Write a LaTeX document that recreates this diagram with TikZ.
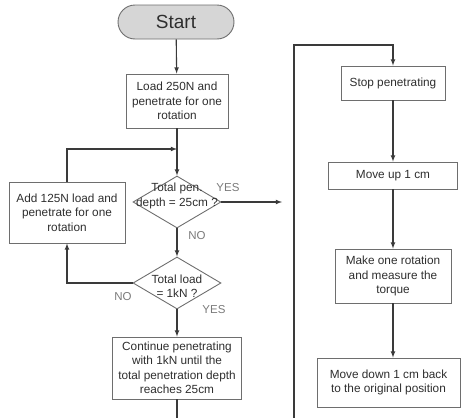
\documentclass[tikz,border=0pt]{standalone}
\usepackage{fontspec}
\setmainfont{Liberation Sans}
\usepackage{tikz}
\usetikzlibrary{shapes.geometric}

\definecolor{boxgray}{HTML}{6E6E6E}
\definecolor{arrgray}{HTML}{3A3A3A}
\definecolor{txtgray}{HTML}{2E2E2E}
\definecolor{lblgray}{HTML}{7A7A7A}
\definecolor{startfill}{HTML}{D6D6D6}

\begin{document}
\begin{tikzpicture}[x=1pt,y=-1pt,
        box/.style={draw=boxgray,line width=0.9pt,align=center,inner sep=2pt,text=txtgray,font=\fontsize{11.8}{14.5}\selectfont},
        startbox/.style={draw=boxgray,fill=startfill,line width=0.9pt,rounded corners=17pt,minimum width=116pt,minimum height=34pt,text=txtgray,font=\fontsize{19}{22}\selectfont},
        cond/.style={diamond,draw=boxgray,line width=0.9pt,inner sep=0pt,minimum width=88pt,minimum height=52pt},
        condtext/.style={align=center,text=txtgray,font=\fontsize{11.8}{14.5}\selectfont},
        answer/.style={text=lblgray,font=\fontsize{11.5}{13}\selectfont},
        arr/.style={->,>=latex,draw=arrgray,line width=1.1pt},
        link/.style={draw=arrgray,line width=1.1pt}]
    \useasboundingbox (0,0) rectangle (461,418);

    % left column
    \node[startbox] (start) at (176,22) {Start};
    \node[box,minimum width=102pt,minimum height=54pt] (load) at (177,101) {Load 250N and\\penetrate for one\\rotation};
    \node[cond,label={[condtext,yshift=6pt]center:{Total pen.\\depth = 25cm ?}}] (pen) at (177,202) {};
    \node[cond,label={[condtext,yshift=-3pt]center:{Total load\\= 1kN ?}}] (tl) at (177,283) {};
    \node[box,minimum width=116pt,minimum height=61pt] (add) at (67,212.5) {Add 125N load and\\penetrate for one\\rotation};
    \node[box,minimum width=129pt,minimum height=62pt] (cont) at (177,368) {Continue penetrating\\with 1kN until the\\total penetration depth\\reaches 25cm};

    \node[answer] (yes1) at (228,188) {YES};
    \node[answer] (no1) at (197,236) {NO};
    \node[answer] (no2) at (123,297) {NO};
    \node[answer] (yes2) at (214,310) {YES};

    % right column
    \node[box,minimum width=104pt,minimum height=34pt] (stop) at (393,83) {Stop penetrating};
    \node[box,minimum width=129pt,minimum height=27pt] (up) at (393,175.5) {Move up 1 cm};
    \node[box,minimum width=116pt,minimum height=54pt] (rot) at (393,276) {Make one rotation\\and measure the\\torque};
    \node[box,minimum width=143pt,minimum height=49pt] (down) at (388.5,382.5) {Move down 1 cm back\\to the original position};

    \coordinate (loopin) at (177,149);
    \coordinate (yesend) at (282,202);
    \coordinate (cbot) at (177,418);
    \coordinate (rbot) at (294,418);
    \coordinate (rtop) at (294,45);

    \draw[arr] (start) -- (load);
    \draw[arr] (load) -- (pen);
    \draw[arr] (pen) -- (tl);
    \draw[arr] (tl) -- (cont);
    \draw[arr] (pen.east) -- (yesend);
    \draw[arr] (tl.west) -| (add.south);
    \draw[arr] (add.north) |- (loopin);
    \draw[link] (cont.south) -- (cbot);

    \draw[arr] (rbot) -- (rtop) -| (stop.north);
    \draw[arr] (stop) -- (up);
    \draw[arr] (up) -- (rot);
    \draw[arr] (rot.south) -- (rot.south |- down.north);
\end{tikzpicture}
\end{document}
